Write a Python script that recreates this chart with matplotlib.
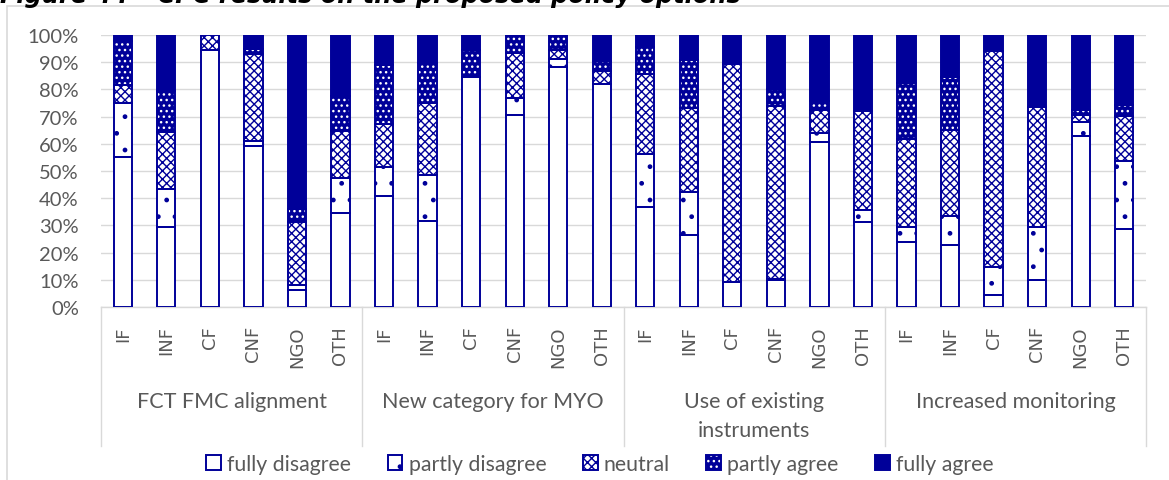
import matplotlib.pyplot as plt
import matplotlib.transforms as mtransforms
from matplotlib.patches import Patch, Rectangle
import numpy as np

# data (percent of respondents)
groups = ["FCT FMC alignment", "New category for MYO", "Use of existing\ninstruments", "Increased monitoring"]
subcats = ["IF", "INF", "CF", "CNF", "NGO", "OTH",
           "IF", "INF", "CF", "CNF", "NGO", "OTH",
           "IF", "INF", "CF", "CNF", "NGO", "OTH",
           "IF", "INF", "CF", "CNF", "NGO", "OTH"]

fully_disagree = [55.0, 29.3, 94.6, 59.3, 6.1, 34.4,
                  40.7, 31.7, 84.6, 70.5, 88.1, 82.1,
                  36.8, 26.6, 9.2, 10.0, 60.5, 31.3,
                  23.9, 22.7, 4.3, 10.0, 63.0, 28.8]
partly_disagree = [20.0, 14.1, 0.0, 1.9, 1.9, 13.0,
                   10.6, 17.0, 0.0, 6.2, 3.1, 0.0,
                   19.6, 15.6, 0.0, 0.4, 3.5, 4.5,
                   5.5, 10.6, 10.3, 19.3, 4.9, 25.0]
neutral = [6.5, 20.8, 5.4, 31.8, 23.1, 17.2,
           16.0, 26.2, 0.0, 16.7, 3.2, 4.5,
           29.4, 31.0, 80.1, 63.4, 8.3, 36.4,
           32.4, 31.9, 79.6, 44.4, 2.8, 16.5]
partly_agree = [16.2, 15.1, 0.0, 1.9, 4.9, 12.9,
                21.5, 14.8, 10.0, 6.6, 5.6, 4.0,
                9.7, 17.7, 0.0, 6.3, 3.3, 0.0,
                20.6, 19.2, 0.0, 0.0, 1.8, 4.1]
fully_agree = [2.3, 20.7, 0.0, 5.1, 64.0, 22.5,
               11.2, 10.3, 5.4, 0.0, 0.0, 9.4,
               4.5, 9.1, 10.7, 19.9, 24.4, 27.8,
               17.6, 15.6, 5.8, 26.3, 27.5, 25.6]
series_names = ["fully disagree", "partly disagree", "neutral", "partly agree", "fully agree"]

navy = '#000099'
grey_txt = '#595959'
grey_line = '#d9d9d9'

plt.rcParams['font.family'] = ['Lato', 'DejaVu Sans']
plt.rcParams['hatch.linewidth'] = 1.0

W, H = 1169, 481
fig = plt.figure(figsize=(W / 100, H / 100), dpi=100)

# outer frame + title (cut off at the top, as in the source page)
fig.patches.append(Rectangle((7 / W, -0.1), 1.2, 1 - 7 / H + 0.1, transform=fig.transFigure,
                             fill=False, edgecolor=grey_line, lw=1.2))
fig.text(0.0, 1 - 2.5 / H, "Figure 44 \u2013 CPC results on the proposed policy options",
         family='DejaVu Sans', fontweight='bold', fontstyle='italic', fontsize=17.3,
         va='baseline', ha='left', color='black')

ax = fig.add_axes([101 / W, 1 - 308 / H, (1146 - 101) / W, (308 - 36) / H])

# (values, face colour, hatch colour, hatch)
styles = [
    (fully_disagree, 'white', navy, None),
    (partly_disagree, 'white', navy, '.'),
    (neutral, 'white', navy, 'xxxx'),
    (partly_agree, navy, 'white', '...'),
    (fully_agree, navy, navy, None),
]

x = np.arange(len(subcats))
bw = 0.42
bottom = np.zeros(len(subcats))
handles = []
for (vals, face, hcol, hatch), name in zip(styles, series_names):
    v = np.array(vals) / 100.0
    m = v > 0
    ax.bar(x[m], v[m], bw, bottom=bottom[m], color=face, edgecolor=hcol,
           hatch=hatch, linewidth=0, zorder=2)
    ax.bar(x[m], v[m], bw, bottom=bottom[m], fill=False, edgecolor=navy,
           linewidth=1.4, zorder=3)
    bottom += v
    handles.append((Patch(facecolor=face, edgecolor=hcol, hatch=hatch, linewidth=0),
                    Patch(fill=False, edgecolor=navy, linewidth=1.4)))

ax.set_xlim(-0.5, len(subcats) - 0.5)
ax.set_ylim(0, 1)
ax.set_yticks(np.arange(0, 11) / 10)
ax.set_yticklabels([f"{i * 10}%" for i in range(11)])
ax.yaxis.grid(True, color=grey_line, lw=1.0)
ax.set_axisbelow(True)
for s in ['top', 'right', 'left']:
    ax.spines[s].set_visible(False)
ax.spines['bottom'].set_color(grey_line)
ax.spines['bottom'].set_linewidth(1.0)

ax.set_xticks(x)
ax.set_xticklabels(subcats, rotation=90, family='DejaVu Sans')
ax.tick_params(axis='x', length=0, pad=13, colors=grey_txt, labelsize=13)
ax.tick_params(axis='y', length=0, pad=16, colors=grey_txt, labelsize=14.5)

trans = mtransforms.blended_transform_factory(ax.transData, ax.transAxes)
for xs in [-0.5, 5.5, 11.5, 17.5, 23.5]:
    ax.plot([xs, xs], [0, -(447 - 308) / 272], transform=trans, color=grey_line,
            lw=1.0, clip_on=False)
for i, g in enumerate(groups):
    ax.text(2.5 + 6 * i, -(392 - 308) / 272, g, transform=trans, ha='center', va='top',
            fontsize=15.5, color=grey_txt, linespacing=1.55)

fig.legend(handles, series_names, ncol=5, loc='center', bbox_to_anchor=(600 / W, 1 - 465 / H),
           frameon=False, fontsize=15.3, labelcolor=grey_txt, handlelength=0.7,
           handleheight=0.7, handletextpad=0.3, columnspacing=1.7)

fig.savefig('out.png', dpi=100)
